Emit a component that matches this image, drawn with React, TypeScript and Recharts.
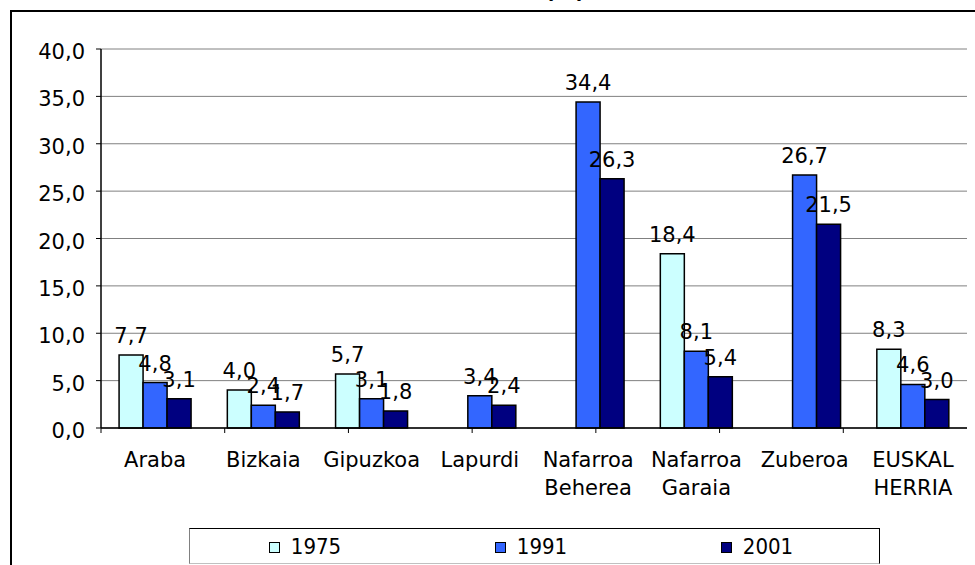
import React from 'react';
import { BarChart, Bar, XAxis, YAxis, CartesianGrid, LabelList, ReferenceLine } from 'recharts';

const categories = ['Araba', 'Bizkaia', 'Gipuzkoa', 'Lapurdi', 'Nafarroa\nBeherea', 'Nafarroa\nGaraia', 'Zuberoa', 'EUSKAL\nHERRIA'];
const values1975: (number | null)[] = [7.7, 4.0, 5.7, null, null, 18.4, null, 8.3];
const values1991: (number | null)[] = [4.8, 2.4, 3.1, 3.4, 34.4, 8.1, 26.7, 4.6];
const values2001: (number | null)[] = [3.1, 1.7, 1.8, 2.4, 26.3, 5.4, 21.5, 3.0];
const seriesNames = ['1975', '1991', '2001'];
const seriesColors = ['#CCFFFF', '#3366FF', '#000080'];
const yTicks = [0, 5, 10, 15, 20, 25, 30, 35, 40];
const boundaryTicks = [0, 1, 2, 3, 4, 5, 6, 7, 8];
const titleText = '(%)';

const data = categories.map((c, i) => ({
  name: c,
  s1975: values1975[i],
  s1991: values1991[i],
  s2001: values2001[i],
}));
const seriesKeys = ['s1975', 's1991', 's2001'];

const FONT = 'DejaVu Sans, Verdana, sans-serif';
const fmt = (v: any) => (v === null || v === undefined || v === '' ? '' : Number(v).toFixed(1).replace('.', ','));

const XTick = (props: any) => {
  const { x, y, payload } = props;
  const lines = String(payload.value).split('\n');
  return (
    <text x={x} y={y} textAnchor="middle" fontSize={21} fontFamily={FONT} fill="#000">
      {lines.map((l, i) => (
        <tspan key={i} x={x} dy={i === 0 ? 34 : 28}>{l}</tspan>
      ))}
    </text>
  );
};

const YTick = (props: any) => {
  const { x, y, payload } = props;
  return (
    <text x={x} y={y} dy={10} textAnchor="end" fontSize={21} fontFamily={FONT} fill="#000">
      {fmt(payload.value)}
    </text>
  );
};

const EmptyTick = () => <g />;

export default function App() {
  return (
    <div style={{ position: 'fixed', left: 0, top: 0, width: 975, height: 565, overflow: 'hidden', background: '#fff' }}>
      <div style={{ position: 'absolute', left: 10, top: 10, width: 1000, height: 600, border: '2px solid #000', boxSizing: 'border-box' }} />
      <svg width={975} height={20} style={{ position: 'absolute', left: 0, top: 0 }}>
        <text x={565} y={-2} textAnchor="middle" fontSize={21} fontWeight="bold" fontFamily={FONT} fill="#000">{titleText}</text>
      </svg>
      <div style={{ position: 'absolute', left: 0, top: 0 }}>
        <BarChart
          width={975}
          height={565}
          data={data}
          margin={{ top: 49, right: 8, left: 0, bottom: 62 }}
          barCategoryGap="16.7%"
          barGap={0}
        >
          <CartesianGrid xAxisId={1} horizontal vertical={false} stroke="#808080" strokeWidth={1} />
          <XAxis
            xAxisId={0}
            type="number"
            domain={[0, 8]}
            ticks={boundaryTicks}
            tick={EmptyTick}
            tickSize={5}
            height={5}
            axisLine={{ stroke: '#000', strokeWidth: 1.5 }}
            tickLine={{ stroke: '#000' }}
            allowDataOverflow
          />
          <XAxis
            xAxisId={1}
            dataKey="name"
            type="category"
            tick={XTick}
            tickSize={0}
            tickMargin={0}
            axisLine={false}
            tickLine={false}
            interval={0}
            height={70}
          />
          <YAxis
            domain={[0, 40]}
            ticks={yTicks}
            width={101}
            tick={YTick}
            tickSize={5}
            tickMargin={11}
            axisLine={{ stroke: '#000', strokeWidth: 1.5 }}
            tickLine={{ stroke: '#000' }}
            interval={0}
          />
          <ReferenceLine xAxisId={0} x={8} stroke="#808080" strokeWidth={2} ifOverflow="visible" />
          {seriesKeys.map((k, i) => (
            <Bar key={k} xAxisId={1} dataKey={k} name={seriesNames[i]} fill={seriesColors[i]} stroke="#000" strokeWidth={1.5} isAnimationActive={false}>
              <LabelList dataKey={k} position="top" offset={12} formatter={fmt} fontSize={21} fontFamily={FONT} fill="#000" />
            </Bar>
          ))}
        </BarChart>
      </div>
      <div
        style={{
          position: 'absolute',
          left: 189,
          top: 528,
          width: 691,
          height: 36,
          boxSizing: 'border-box',
          borderTop: '1px solid #000',
          borderLeft: '1px solid #808080',
          borderRight: '1px solid #000',
          borderBottom: '1px solid #c0c0c0',
          background: '#fff',
          display: 'flex',
          paddingLeft: 2,
          paddingTop: 6,
        }}
      >
        {seriesNames.map((n, i) => (
          <div key={n} style={{ width: 226, display: 'flex', justifyContent: 'center', alignItems: 'center', height: 24 }}>
            <span style={{ display: 'inline-block', width: 9, height: 9, border: '1px solid #000', background: seriesColors[i], marginRight: 11 }} />
            <span style={{ fontFamily: 'DejaVu Sans Condensed, DejaVu Sans, sans-serif', fontSize: 22, lineHeight: '24px', color: '#000' }}>{n}</span>
          </div>
        ))}
      </div>
    </div>
  );
}
